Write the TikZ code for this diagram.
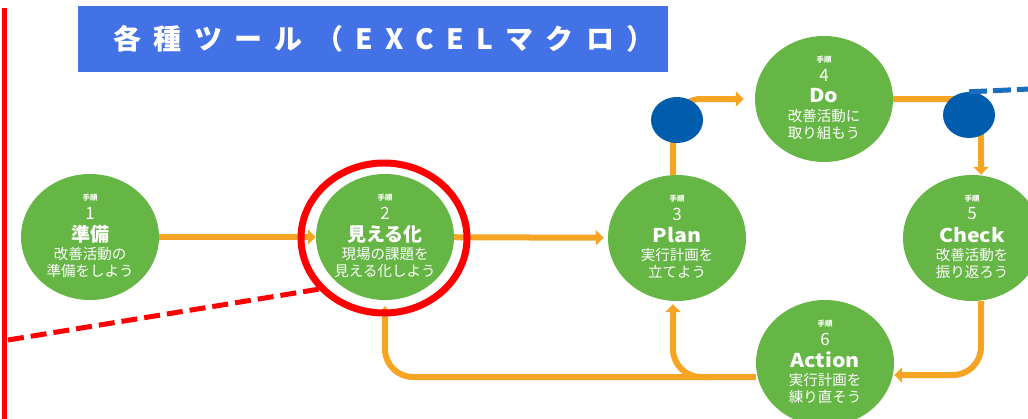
\documentclass[tikz,border=0pt]{standalone}
\usepackage{fontspec}
\setmainfont{Noto Sans CJK JP}
\newfontfamily\titlefont[LetterSpace=44]{Noto Sans CJK JP}
\usetikzlibrary{shapes.geometric,arrows.meta}
\definecolor{stepgreen}{HTML}{66B646}
\definecolor{floworange}{HTML}{F5A523}
\definecolor{titleblue}{HTML}{4371E6}
\definecolor{dotblue}{HTML}{005DAE}
\definecolor{markred}{HTML}{FF0000}
\definecolor{dashblue}{HTML}{1A6EC0}
\tikzset{
  stepc/.style={ellipse, fill=stepgreen, minimum width=138pt, minimum height=126pt, inner sep=0pt},
  lbl/.style={text=white, inner sep=0pt},
  tinyf/.style={lbl, font=\bfseries\fontsize{7.5}{8}\selectfont},
  numf/.style={lbl, font=\fontsize{17}{18}\selectfont},
  titf/.style={lbl, font=\bfseries\fontsize{19}{20}\selectfont},
  descf/.style={lbl, font=\fontsize{14.5}{15}\selectfont},
  flow/.style={draw=floworange, line width=6pt, rounded corners=28pt, -{Triangle[length=8pt,width=15pt]}},
  bluedot/.style={ellipse, fill=dotblue, minimum width=52pt, minimum height=46pt, inner sep=0pt},
}
\newcommand{\pdcastep}[7]{%
  \node[stepc] (#1) at (#2,#3) {};
  \node[tinyf] (#1-a) at ([yshift=39pt]#1.center) {手順};
  \node[numf] (#1-b) at ([yshift=24pt]#1.center) {#4};
  \node[titf] (#1-c) at ([yshift=3pt]#1.center) {#5};
  \node[descf] (#1-d) at ([yshift=-17pt]#1.center) {#6};
  \node[descf] (#1-e) at ([yshift=-34pt]#1.center) {#7};
}
\newcommand{\wide}[1]{\scalebox{1.12}[1]{#1}}
\begin{document}
\begin{tikzpicture}[x=1pt,y=-1pt]
\useasboundingbox (0,0) rectangle (1028,418);
% title
\node[fill=titleblue, minimum width=590pt, minimum height=66pt, inner sep=0pt] (t) at (373,39) {};
\node[inner sep=0pt, text=white, font=\titlefont\bfseries\fontsize{28}{30}\selectfont] (tt) at (384,39) {各種ツール（EXCELマクロ）};
% steps
\pdcastep{c1}{90}{237}{1}{準備}{改善活動の}{準備をしよう}
\pdcastep{c2}{385}{237}{2}{見える化}{現場の課題を}{見える化しよう}
\pdcastep{c3}{677}{238}{3}{\wide{Plan}}{実行計画を}{立てよう}
\pdcastep{c4}{824}{99}{4}{\wide{Do}}{改善活動に}{取り組もう}
\pdcastep{c5}{972}{238}{5}{\wide{Check}}{改善活動を}{振り返ろう}
\pdcastep{c6}{825}{363}{6}{\wide{Action}}{実行計画を}{練り直そう}
% flows
\draw[flow] (c1) -- (c2);
\draw[flow, shorten >=4pt] (c2) -- (c3);
\draw[flow, shorten >=11pt] ([xshift=-4pt]c3.north) |- (c4.west);
\draw[flow] (c4.east) -| ([xshift=9pt]c5.north);
\draw[flow] ([xshift=9pt]c5.south) |- ([yshift=-12pt]c6.east);
\draw[flow, shorten >=6pt] ([yshift=-14pt]c6.west) -| (c2.south);
\coordinate (br) at (712,377);
\draw[flow, shorten >=3pt] (br) -| ([xshift=-4pt]c3.south);
% highlight
\node[ellipse, draw=markred, line width=7pt, minimum width=166pt, minimum height=150pt] (r2) at (384,238) {};
\coordinate (rl) at (8,340);
\draw[markred, line width=5pt, dash pattern=on 16pt off 7pt] (rl) -- (r2.218);
\coordinate (rtop) at (4,8);
\coordinate (rbot) at (4,420);
\draw[markred, line width=5pt] (rtop) -- (rbot);
% blue dots
\node[bluedot] (d1) at (677,120) {};
\node[bluedot] (d2) at (969,115) {};
\coordinate (bd) at (1030,89);
\draw[dashblue, line width=5pt, dash pattern=on 18pt off 6pt] (d2.north) -- (bd);
\end{tikzpicture}
\end{document}
